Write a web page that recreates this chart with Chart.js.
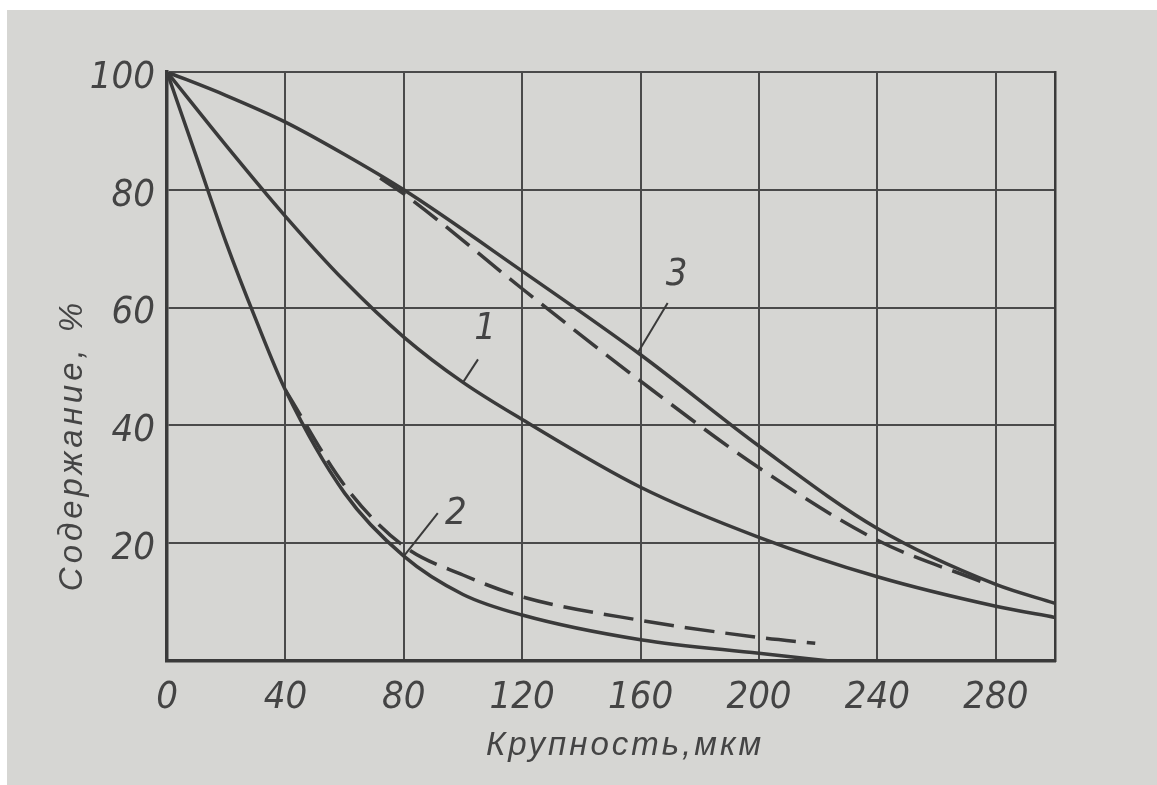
<!DOCTYPE html>
<html>
<head>
<meta charset="utf-8">
<script src="https://cdn.jsdelivr.net/npm/chart.js@4.4.1/dist/chart.umd.min.js"></script>
<style>
  body { margin: 0; background: #fff; }
  #box { position: absolute; left: 7px; top: 10px; width: 1150px; height: 775px; background: #d6d6d3; }
</style>
</head>
<body>
<div id="box"><canvas id="grafico"></canvas></div>
<script>
// datos (крупность, мкм -> содержание, %)
var curva1X = [0, 20, 40, 60, 80, 100, 120, 160, 200, 240, 280, 300];
var curva1Y = [100, 87.5, 75.5, 64.5, 55, 47.3, 41, 29.5, 21, 14.3, 9.3, 7.4];

var curva2X = [0, 10, 20, 30, 40, 60, 80, 100, 120, 160, 200, 224];
var curva2Y = [100, 85.5, 71, 58, 46, 28.5, 17.8, 11.3, 7.8, 3.6, 1.3, 0];

var curva2dX = [40, 60, 80, 100, 120, 160, 200, 219];
var curva2dY = [46, 29.8, 19.5, 14.6, 10.9, 6.9, 4.0, 3.0];

var curva3X = [0, 20, 40, 60, 80, 120, 160, 200, 240, 280, 300];
var curva3Y = [100, 96, 91.5, 86, 80, 66.2, 52, 36.5, 22.5, 13, 9.8];

var curva3dX = [72, 80, 120, 160, 200, 240, 276];
var curva3dY = [82, 79.3, 63.2, 47.5, 32.8, 20.5, 13.3];

var ticksX = [0, 40, 80, 120, 160, 200, 240, 280];
var ticksY = [0, 20, 40, 60, 80, 100];

// numeros de las curvas y el punto de la curva donde sale la linea
var etiquetas = ['1', '2', '3'];
var etiquetaX = [100, 80, 159];
var etiquetaY = [47.3, 17.8, 52.3];

var tituloX = 'Крупность,мкм';
var tituloY = 'Содержание, %';

var tinta = '#3a3a3a';
var fuente = '"Liberation Sans Narrow", "DejaVu Sans Condensed", sans-serif';

function puntos(xs, ys) {
    return xs.map(function (x, i) { return { x: x, y: ys[i] }; });
}

function serie(xs, ys, dash) {
    return {
        data: puntos(xs, ys),
        borderColor: tinta,
        borderWidth: 3.5,
        borderDash: dash || [],
        pointRadius: 0,
        showLine: true,
        fill: false,
        cubicInterpolationMode: 'monotone'
    };
}

// plugin: numeros de curvas con su linea y titulos de ejes
var extras = {
    id: 'extras',
    afterDraw: function (chart) {
        var ctx = chart.ctx;
        var sx = chart.scales.x, sy = chart.scales.y;
        var linea = [[15, -23], [34, -43], [30, -50]];
        var texto = [[22, -53], [52, -42], [39, -78]];
        ctx.save();
        ctx.strokeStyle = tinta;
        ctx.lineWidth = 2;
        ctx.fillStyle = '#444';
        ctx.font = 'italic 38px ' + fuente;
        ctx.textAlign = 'center';
        ctx.textBaseline = 'middle';
        etiquetas.forEach(function (t, i) {
            var x = sx.getPixelForValue(etiquetaX[i]);
            var y = sy.getPixelForValue(etiquetaY[i]);
            ctx.beginPath();
            ctx.moveTo(x, y);
            ctx.lineTo(x + linea[i][0], y + linea[i][1]);
            ctx.stroke();
            ctx.fillText(t, x + texto[i][0], y + texto[i][1]);
        });

        // titulos con espacio entre letras
        ctx.font = 'italic 33px "Liberation Sans", "DejaVu Sans", sans-serif';
        ctx.letterSpacing = '3px';
        ctx.fillText(tituloX, 618, 736);
        ctx.translate(66, 435);
        ctx.rotate(-Math.PI / 2);
        ctx.letterSpacing = '4px';
        ctx.fillText(tituloY, 0, 0);
        ctx.restore();
    }
};

var ctx = document.getElementById('grafico').getContext('2d');
var grafico = new Chart(ctx, {
    type: 'scatter',
    data: {
        datasets: [
            serie(curva1X, curva1Y),
            serie(curva2X, curva2Y),
            serie(curva2dX, curva2dY, [30, 11]),
            serie(curva3X, curva3Y),
            serie(curva3dX, curva3dY, [30, 11])
        ]
    },
    options: {
        responsive: true,
        maintainAspectRatio: false,
        animation: false,
        layout: { padding: { left: 0, right: 102, top: 62, bottom: 0 } },
        plugins: {
            legend: { display: false },
            tooltip: { enabled: false }
        },
        scales: {
            x: {
                type: 'linear',
                min: 0,
                max: 300,
                afterFit: function (s) { s.height = 124; },
                afterBuildTicks: function (s) { s.ticks = ticksX.map(function (v) { return { value: v }; }); },
                border: { display: true, color: tinta, width: 3.5 },
                grid: { color: '#4a4a4a', lineWidth: 2, drawTicks: false },
                ticks: {
                    padding: 14,
                    color: '#444',
                    font: { family: fuente, size: 38, style: 'italic' }
                }
            },
            y: {
                type: 'linear',
                min: 0,
                max: 100,
                afterFit: function (s) { s.width = 160; },
                afterBuildTicks: function (s) { s.ticks = ticksY.map(function (v) { return { value: v }; }); },
                border: { display: true, color: tinta, width: 3.5 },
                grid: { color: '#4a4a4a', lineWidth: 2, drawTicks: false },
                ticks: {
                    padding: 12,
                    labelOffset: 6,
                    color: '#444',
                    font: { family: fuente, size: 38, style: 'italic' },
                    callback: function (v) { return v === 0 ? '' : v; }
                }
            },
            yR: {
                type: 'linear',
                position: 'right',
                min: 0,
                max: 100,
                afterFit: function (s) { s.width = 0; },
                border: { display: true, color: tinta, width: 2.5 },
                grid: { display: false },
                ticks: { display: false }
            }
        }
    },
    plugins: [extras]
});
</script>
</body>
</html>
